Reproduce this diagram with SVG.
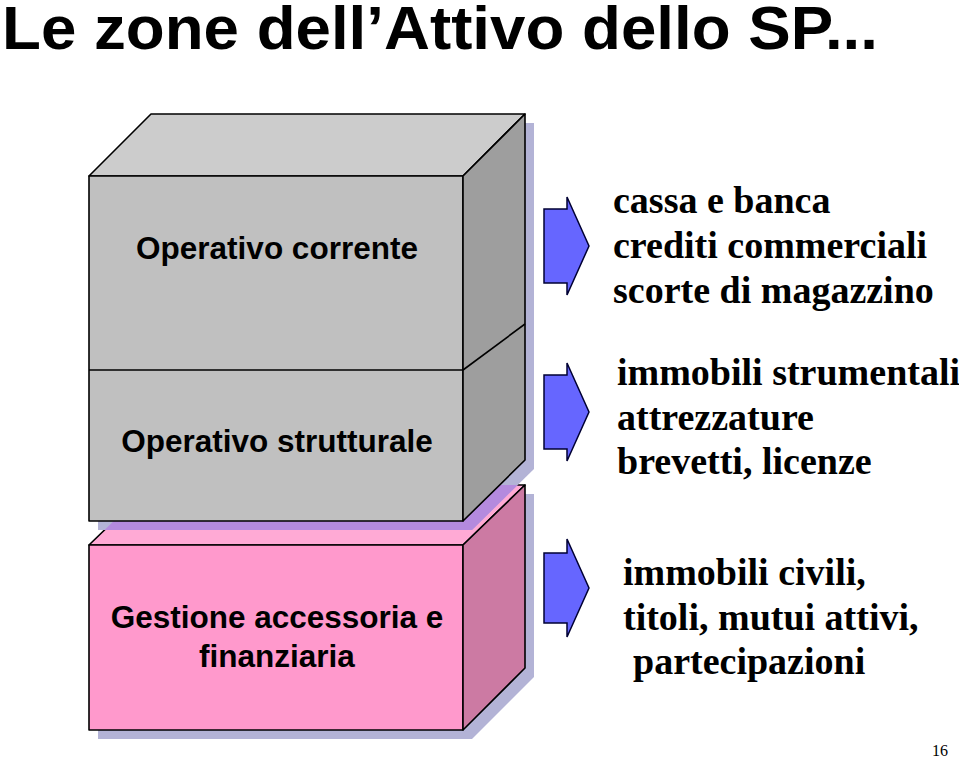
<svg xmlns="http://www.w3.org/2000/svg" width="959" height="759" viewBox="0 0 959 759">
<style>
.edge{stroke:#000;stroke-width:1.6;stroke-linejoin:round}
.lbl{font-family:"Liberation Sans",Arial,sans-serif;font-weight:bold;font-size:31.5px;fill:#000;text-anchor:middle}
.item{font-family:"Liberation Serif","Times New Roman",serif;font-weight:bold;font-size:38px;fill:#000}
.arrow{fill:#6666ff;stroke:#000033;stroke-width:1.5;stroke-linejoin:miter}
.shadow{fill:#b3b3d6}
</style>
<defs>
<clipPath id="pinkClip"><polygon points="89,545 151,485 525,485 525,668 463,730 89,730"/></clipPath>
</defs>
<rect width="959" height="759" fill="#fff"/>
<text x="2" y="49" font-family="'Liberation Sans',Arial,sans-serif" font-weight="bold" font-size="62" textLength="876" lengthAdjust="spacingAndGlyphs" fill="#000">Le zone dell’Attivo dello SP...</text>

<g id="box-gestione">
<polygon class="shadow" points="98,554 160,494 534,494 534,677 472,739 98,739"/>
<polygon class="edge" fill="#ffaad5" points="89,545 151,485 525,485 463,545"/>
<rect class="edge" fill="#ff99cc" x="89" y="545" width="374" height="185"/>
<polygon class="edge" fill="#cc7aa3" points="463,545 525,485 525,668 463,730"/>
<text class="lbl" x="277" y="628">Gestione accessoria e</text>
<text class="lbl" x="277" y="667">finanziaria</text>
</g>

<g id="box-operativo">
<polygon class="shadow" points="98,185 160,123 534,123 534,469 472,530 98,530"/>
<polygon fill="#b48ade" clip-path="url(#pinkClip)" points="98,185 160,123 534,123 534,469 472,530 98,530"/>
<polygon class="edge" fill="#cccccc" points="89,176 151,114 525,114 463,176"/>
<rect class="edge" fill="#c0c0c0" x="89" y="176" width="374" height="345"/>
<polygon class="edge" fill="#9e9e9e" points="463,176 525,114 525,460 463,521"/>
<line class="edge" x1="89" y1="370" x2="463" y2="370"/>
<line class="edge" x1="463" y1="370" x2="525" y2="324"/>
<g id="zone-corrente"><text class="lbl" x="277" y="259">Operativo corrente</text></g>
<g id="zone-strutturale"><text class="lbl" x="277" y="452">Operativo strutturale</text></g>
</g>

<g id="connectors">
<polygon class="arrow" points="544,209 567,209 567,197 589,246 567,295 567,283 544,283"/>
<polygon class="arrow" points="544,375 567,375 567,363 589,412 567,461 567,449 544,449"/>
<polygon class="arrow" points="544,553 567,553 567,539 589,588 567,637 567,623 544,623"/>
</g>

<g id="list-corrente">
<text class="item" x="613" y="213">cassa e banca</text>
<text class="item" x="613" y="258">crediti commerciali</text>
<text class="item" x="613" y="303">scorte di magazzino</text>
</g>
<g id="list-strutturale">
<text class="item" x="617" y="385">immobili strumentali</text>
<text class="item" x="617" y="430">attrezzature</text>
<text class="item" x="617" y="474">brevetti, licenze</text>
</g>
<g id="list-accessoria">
<text class="item" x="623" y="585">immobili civili,</text>
<text class="item" x="623" y="630">titoli, mutui attivi,</text>
<text class="item" x="633" y="674">partecipazioni</text>
</g>
<text x="932" y="756" font-family="'Liberation Serif','Times New Roman',serif" font-size="16" fill="#000">16</text>
</svg>
